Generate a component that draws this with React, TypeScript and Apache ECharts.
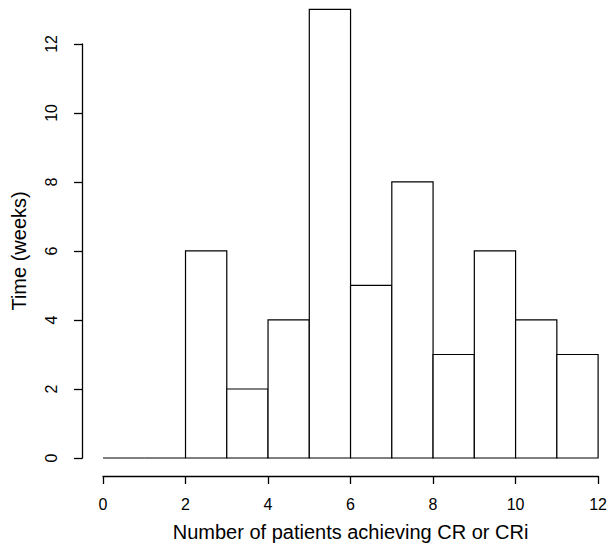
import React, { useEffect, useRef } from "react";
import * as echarts from "echarts";

const binStarts = [0, 1, 2, 3, 4, 5, 6, 7, 8, 9, 10, 11];
const binEnds = [1, 2, 3, 4, 5, 6, 7, 8, 9, 10, 11, 12];
const counts = [0, 0, 6, 2, 4, 13, 5, 8, 3, 6, 4, 3];
const xTitle = "Number of patients achieving CR or CRi";
const yTitle = "Time (weeks)";

export default function App() {
  const ref = useRef<HTMLDivElement>(null);
  useEffect(() => {
    document.body.style.margin = "0";
    const chart = echarts.init(ref.current!, null, { renderer: "svg" });
    const data = counts.map((c, i) => [binStarts[i], binEnds[i], c]);
    const font = "Liberation Sans, Arial, Helvetica, sans-serif";
    chart.setOption({
      animation: false,
      backgroundColor: "#ffffff",
      grid: { left: 103, right: 6, top: 43.9, bottom: 87.5, containLabel: false },
      xAxis: {
        type: "value",
        min: 0,
        max: 12,
        interval: 2,
        offset: 18,
        name: xTitle,
        nameLocation: "middle",
        nameGap: 46,
        nameTextStyle: { fontFamily: font, fontSize: 20, color: "#000" },
        axisLine: { show: true, onZero: false, lineStyle: { color: "#000", width: 1.3 } },
        axisTick: { show: true, length: 8, lineStyle: { color: "#000", width: 1.3 } },
        axisLabel: { fontFamily: font, fontSize: 16, color: "#000", margin: 20 },
        splitLine: { show: false },
      },
      yAxis: {
        type: "value",
        min: 0,
        max: 12,
        interval: 2,
        offset: 20.5,
        name: yTitle,
        nameLocation: "middle",
        nameGap: 54,
        nameTextStyle: { fontFamily: font, fontSize: 20, color: "#000" },
        axisLine: { show: true, onZero: false, lineStyle: { color: "#000", width: 1.3 } },
        axisTick: { show: true, length: 8.5, lineStyle: { color: "#000", width: 1.3 } },
        axisLabel: { fontFamily: font, fontSize: 16, color: "#000", margin: 23, rotate: 90 },
        splitLine: { show: false },
      },
      series: [
        {
          type: "custom",
          clip: false,
          data,
          encode: { x: [0, 1], y: 2 },
          renderItem: (params: any, api: any) => {
            const p0 = api.coord([api.value(0), api.value(2)]);
            const p1 = api.coord([api.value(1), 0]);
            return {
              type: "rect",
              shape: { x: p0[0], y: p0[1], width: p1[0] - p0[0], height: p1[1] - p0[1] },
              style: { fill: "#ffffff", stroke: "#000000", lineWidth: 1.2 },
            };
          },
        },
      ],
    });
    return () => chart.dispose();
  }, []);
  return <div ref={ref} style={{ width: 610, height: 547 }} />;
}
